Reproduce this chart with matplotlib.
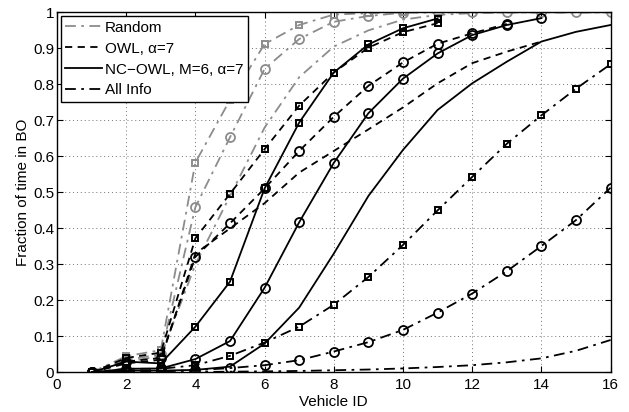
import matplotlib
matplotlib.use("Agg")
import matplotlib.pyplot as plt
from matplotlib.lines import Line2D

plt.rcParams['font.family'] = ['Liberation Sans', 'DejaVu Sans']

# Vehicle IDs
vehicles = list(range(1, 17))

# Random (gray dash-dot)
random_sq = [0, 0.045, 0.062, 0.583, 0.757, 0.912, 0.965, 0.994, 0.998, 1.0]
random_ci = [0, 0.035, 0.05, 0.459, 0.653, 0.843, 0.926, 0.974, 0.99, 0.999, 1, 1, 1, 1, 1, 1]
random_pl = [0, 0.03, 0.045, 0.30, 0.49, 0.68, 0.82, 0.905, 0.95, 0.98, 0.993, 0.998, 1, 1, 1, 1]

# OWL, alpha=7 (black dashed)
owl_sq = [0, 0.04, 0.055, 0.3725, 0.496, 0.62, 0.741, 0.833, 0.902, 0.945, 0.970]
owl_ci = [0, 0.03, 0.04, 0.321, 0.414, 0.511, 0.615, 0.71, 0.796, 0.861, 0.913, 0.942, 0.968]
owl_pl = [0, 0.025, 0.035, 0.33, 0.40, 0.47, 0.555, 0.615, 0.675, 0.736, 0.803, 0.859, 0.891, 0.919]

# NC-OWL, M=6, alpha=7 (black solid)
nc_sq = [0, 0.03, 0.025, 0.127, 0.252, 0.511, 0.694, 0.833, 0.911, 0.956, 0.983]
nc_ci = [0, 0.01, 0.011, 0.037, 0.087, 0.235, 0.417, 0.582, 0.72, 0.816, 0.886, 0.937, 0.965, 0.984]
nc_pl = [0, 0.005, 0.005, 0.007, 0.016, 0.08, 0.18, 0.33, 0.49, 0.618, 0.729, 0.803, 0.863, 0.919, 0.946, 0.965]

# All Info (black dash-dot)
all_sq = [0, 0.01, 0.01, 0.02, 0.046, 0.083, 0.127, 0.188, 0.265, 0.354, 0.45, 0.543, 0.635, 0.714, 0.788, 0.856]
all_ci = [0, 0.003, 0.003, 0.006, 0.012, 0.02, 0.034, 0.058, 0.084, 0.118, 0.166, 0.219, 0.281, 0.351, 0.423, 0.513]
all_pl = [0, 0, 0, 0.001, 0.002, 0.003, 0.004, 0.006, 0.008, 0.011, 0.015, 0.02, 0.028, 0.039, 0.06, 0.09]

legend_labels = ['Random', 'OWL, \u03b1=7', 'NC\u2212OWL, M=6, \u03b1=7', 'All Info']
xticks = list(range(0, 17, 2))
yticks = [i / 10 for i in range(11)]
ytick_labels = ['0', '0.1', '0.2', '0.3', '0.4', '0.5', '0.6', '0.7', '0.8', '0.9', '1']

GRAY = '0.55'
LW = 1.3

fig = plt.figure(figsize=(6.29, 4.12), dpi=100)
ax = fig.add_axes([0.0906, 0.0961, 0.8801, 0.8738])

groups = [
    (random_sq, random_ci, random_pl, GRAY, (0, (6, 3, 1.5, 3))),
    (owl_sq, owl_ci, owl_pl, 'black', (0, (4, 3))),
    (nc_sq, nc_ci, nc_pl, 'black', '-'),
    (all_sq, all_ci, all_pl, 'black', (0, (6, 3, 1.5, 3))),
]

for sq, ci, pl, col, ls in groups:
    ax.plot(vehicles[:len(pl)], pl, color=col, ls=ls, lw=LW)
    ax.plot(vehicles[:len(sq)], sq, color=col, ls=ls, lw=LW, marker='s',
            ms=5, mfc='none', mec=col, mew=1.4)
    ax.plot(vehicles[:len(ci)], ci, color=col, ls=ls, lw=LW, marker='o',
            ms=6.5, mfc='none', mec=col, mew=1.3)

ax.set_xlim(0, 16)
ax.set_ylim(0, 1)
ax.set_xticks(xticks)
ax.set_xticklabels([str(t) for t in xticks])
ax.set_yticks(yticks)
ax.set_yticklabels(ytick_labels)
ax.tick_params(axis='x', direction='in', length=4, labelsize=11, top=True, pad=4)
ax.tick_params(axis='y', direction='in', length=4, labelsize=11, right=True, pad=2)
ax.grid(True, ls=(0, (1, 3)), color='0.45', lw=0.7)
for s in ax.spines.values():
    s.set_linewidth(1.0)
ax.set_xlabel('Vehicle ID', fontsize=11, labelpad=2)
ax.set_ylabel('Fraction of time in BO', fontsize=11, labelpad=2)

handles = [Line2D([], [], color=g[3], ls=g[4], lw=LW) for g in groups]
leg = ax.legend(handles, legend_labels, loc='upper left', fontsize=11,
                frameon=True, fancybox=False, framealpha=1, edgecolor='black',
                handlelength=2.4, handletextpad=0.2, borderpad=0.3,
                labelspacing=0.45, borderaxespad=0.25)
leg.get_frame().set_linewidth(1.0)

fig.savefig('out.png', dpi=100)
